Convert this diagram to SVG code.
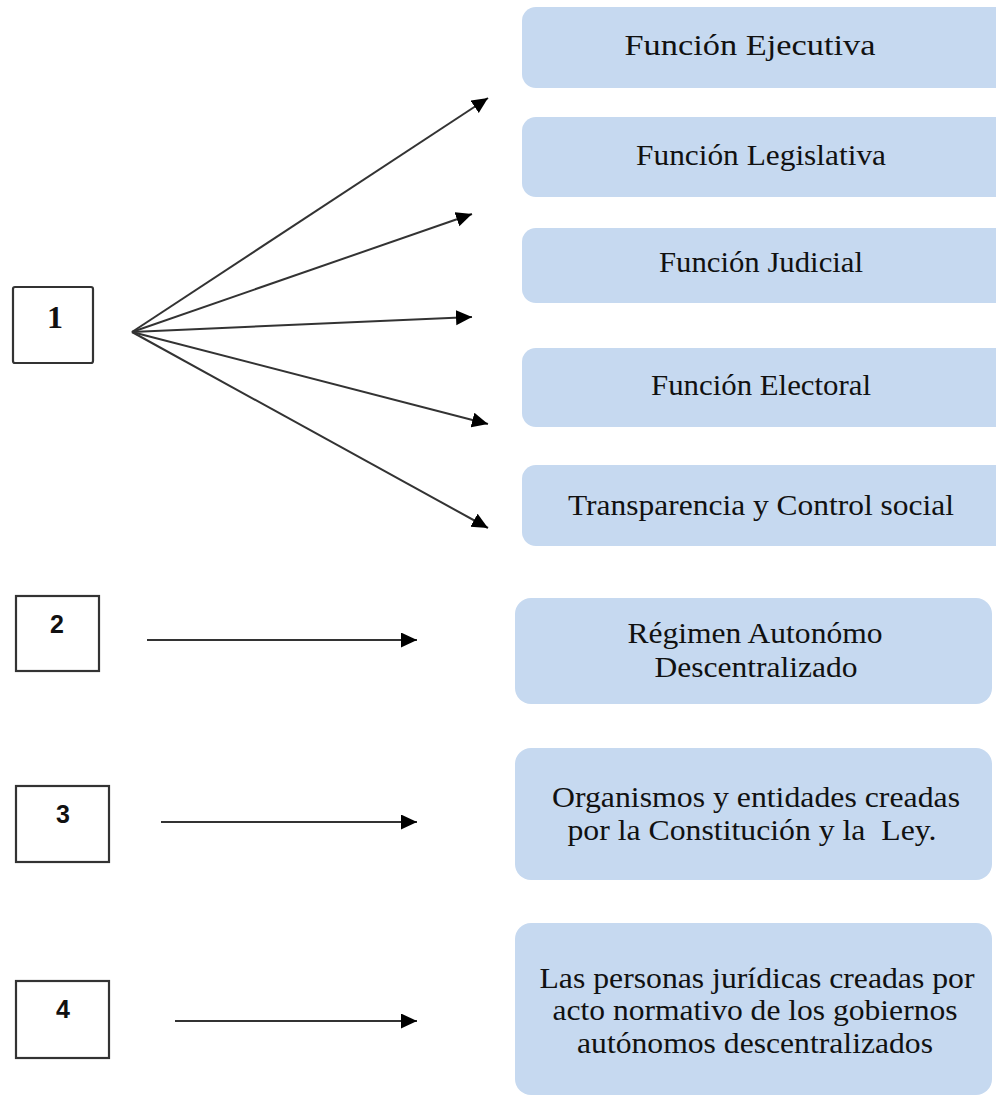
<svg xmlns="http://www.w3.org/2000/svg" width="996" height="1097" viewBox="0 0 996 1097">
<defs>
<marker id="ah" markerUnits="userSpaceOnUse" markerWidth="17" markerHeight="16" refX="16" refY="7.5" orient="auto">
<path d="M0,0 L16,7.5 L0,15 Z" fill="#000"/>
</marker>
</defs>
<style>
.box{fill:#c6d9f0}
.num{fill:#fff;stroke:#333;stroke-width:2.2}
.t{font-family:"Liberation Serif","Times New Roman",serif;font-size:29px;fill:#111;text-anchor:middle}
.n1{font-family:"Liberation Serif","Times New Roman",serif;font-size:32px;font-weight:bold;fill:#111;text-anchor:middle}
.n{font-family:"Liberation Sans",Arial,sans-serif;font-size:25px;font-weight:bold;fill:#111;text-anchor:middle}
.c line{stroke:#333;stroke-width:2;marker-end:url(#ah)}
</style>
<rect width="996" height="1097" fill="#fff"/>
<g id="n1"><rect class="num" x="13" y="287" width="80" height="76" rx="2"/><text class="n1" x="55" y="328">1</text></g>
<g id="n2"><rect class="num" x="16" y="596" width="83" height="75"/><text class="n" x="57" y="633">2</text></g>
<g id="n3"><rect class="num" x="16" y="786" width="93" height="76"/><text class="n" x="63" y="823">3</text></g>
<g id="n4"><rect class="num" x="16" y="981" width="93" height="77"/><text class="n" x="63" y="1018">4</text></g>
<g id="b1"><rect class="box" x="522" y="7" width="490" height="81" rx="14"/><text class="t" x="750" y="55" textLength="251" lengthAdjust="spacingAndGlyphs">Función Ejecutiva</text></g>
<g id="b2"><rect class="box" x="522" y="117" width="490" height="80" rx="14"/><text class="t" x="761" y="165" textLength="250" lengthAdjust="spacingAndGlyphs">Función Legislativa</text></g>
<g id="b3"><rect class="box" x="522" y="228" width="490" height="75" rx="14"/><text class="t" x="761" y="272" textLength="204" lengthAdjust="spacingAndGlyphs">Función Judicial</text></g>
<g id="b4"><rect class="box" x="522" y="348" width="490" height="79" rx="14"/><text class="t" x="761" y="395" textLength="220" lengthAdjust="spacingAndGlyphs">Función Electoral</text></g>
<g id="b5"><rect class="box" x="522" y="465" width="490" height="81" rx="14"/><text class="t" x="761" y="515" textLength="386" lengthAdjust="spacingAndGlyphs">Transparencia y Control social</text></g>
<g id="b6"><rect class="box" x="515" y="598" width="477" height="106" rx="16"/><text class="t" x="755" y="643" textLength="255" lengthAdjust="spacingAndGlyphs">Régimen Autonómo</text><text class="t" x="756" y="677" textLength="203" lengthAdjust="spacingAndGlyphs">Descentralizado</text></g>
<g id="b7"><rect class="box" x="515" y="748" width="477" height="132" rx="16"/><text class="t" x="756" y="807" textLength="408" lengthAdjust="spacingAndGlyphs">Organismos y entidades creadas</text><text class="t" x="752" y="840" textLength="369" lengthAdjust="spacingAndGlyphs">por la Constitución y la&#160; Ley.</text></g>
<g id="b8"><rect class="box" x="515" y="923" width="477" height="172" rx="16"/><text class="t" x="757" y="988" textLength="435" lengthAdjust="spacingAndGlyphs">Las personas jurídicas creadas por</text><text class="t" x="755" y="1020" textLength="405" lengthAdjust="spacingAndGlyphs">acto normativo de los gobiernos</text><text class="t" x="755" y="1053" textLength="356" lengthAdjust="spacingAndGlyphs">autónomos descentralizados</text></g>
<g id="connectors" class="c">
<line x1="132" y1="332" x2="488" y2="98"/>
<line x1="132" y1="332" x2="472" y2="214"/>
<line x1="132" y1="332" x2="472" y2="317"/>
<line x1="132" y1="332" x2="488" y2="424"/>
<line x1="132" y1="332" x2="488" y2="528"/>
<line x1="147" y1="640" x2="417" y2="640"/>
<line x1="161" y1="822" x2="417" y2="822"/>
<line x1="175" y1="1021" x2="417" y2="1021"/>
</g>
</svg>
